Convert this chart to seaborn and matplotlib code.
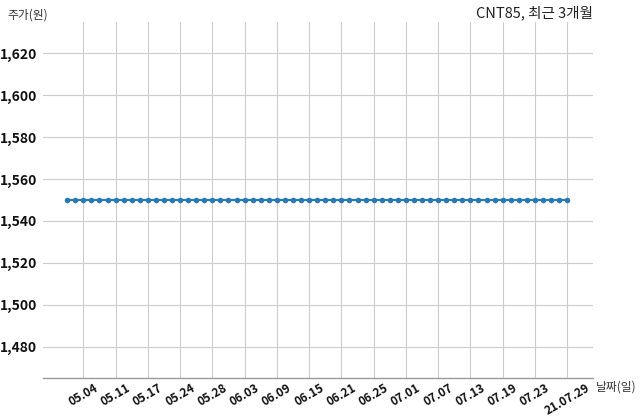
import pandas as pd
import matplotlib.pyplot as plt
import seaborn as sns

# trading days shown on the chart (2021.04.30 - 2021.07.29)
dates = [
    '04.30', '05.03', '05.04', '05.06', '05.07', '05.10', '05.11', '05.12',
    '05.13', '05.14', '05.17', '05.18', '05.20', '05.21', '05.24', '05.25',
    '05.26', '05.27', '05.28', '05.31', '06.01', '06.02', '06.03', '06.04',
    '06.07', '06.08', '06.09', '06.10', '06.11', '06.14', '06.15', '06.16',
    '06.17', '06.18', '06.21', '06.22', '06.23', '06.24', '06.25', '06.28',
    '06.29', '06.30', '07.01', '07.02', '07.05', '07.06', '07.07', '07.08',
    '07.09', '07.12', '07.13', '07.14', '07.15', '07.16', '07.19', '07.20',
    '07.21', '07.22', '07.23', '07.26', '07.27', '07.28', '07.29',
]
prices = [1550] * len(dates)

y_ticks = [1480, 1500, 1520, 1540, 1560, 1580, 1600, 1620]

# every 4th trading day gets a label, the last one with the year
tick_idx = list(range(2, len(dates), 4))
tick_labels = [dates[i] for i in tick_idx]
tick_labels[-1] = '21.' + tick_labels[-1]

df = pd.DataFrame({'pos': range(len(dates)), 'price': prices})

sns.set_theme(style='white')
plt.rcParams['font.family'] = ['Noto Sans CJK KR', 'DejaVu Sans']

fig = plt.figure(figsize=(6.4, 4.19), dpi=100)
ax = fig.add_axes([43 / 640, 1 - 378 / 419, 550 / 640, 356 / 419])

sns.lineplot(data=df, x='pos', y='price', ax=ax, color='#2a78b4',
             linewidth=1.6, marker='o', markersize=4, markeredgewidth=0)

ax.set_xlim(-3, 65.2)
ax.set_ylim(1465, 1635)
ax.set_xticks(tick_idx)
ax.set_xticklabels(tick_labels, rotation=30, fontsize=8.5, fontweight='bold',
                   ha='center')
ax.set_yticks(y_ticks)
ax.set_yticklabels([f'{v:,}' for v in y_ticks], fontsize=10, fontweight='bold')
ax.tick_params(axis='both', length=0, pad=4, colors='#111111')
ax.tick_params(axis='x', pad=2.5)

ax.grid(True, color='#cccccc', linewidth=0.8)
for side in ['left', 'right', 'top']:
    ax.spines[side].set_visible(False)
ax.spines['bottom'].set_color('#999999')
ax.spines['bottom'].set_linewidth(1.0)

ax.set_xlabel('')
ax.set_ylabel('')

fig.text(7 / 640, 1 - 15 / 419, '주가(원)', fontsize=8.5, color='#333333',
         va='center', ha='left')
fig.text(593 / 640, 1 - 13 / 419, 'CNT85, 최근 3개월', fontsize=10.5,
         color='#222222', va='center', ha='right')
fig.text(596 / 640, 1 - 387 / 419, '날짜(일)', fontsize=8.5, color='#333333',
         va='center', ha='left')

fig.savefig('out.png', dpi=100)
